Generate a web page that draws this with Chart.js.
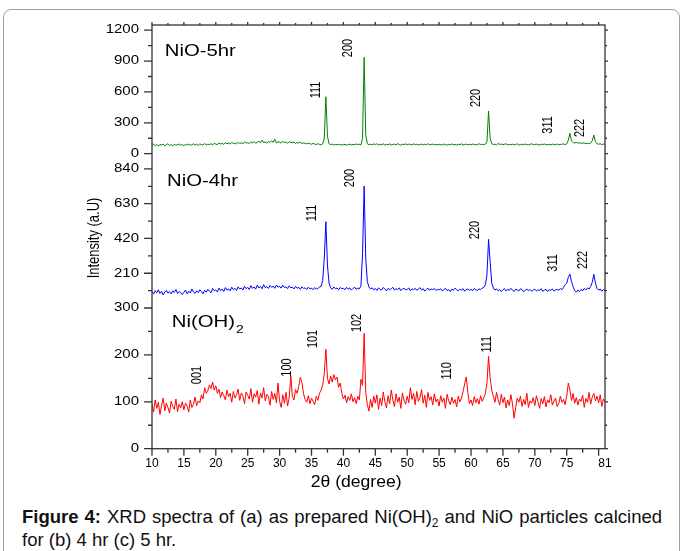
<!DOCTYPE html>
<html>
<head>
<meta charset="utf-8">
<script src="https://cdn.jsdelivr.net/npm/chart.js@4.4.1/dist/chart.umd.min.js"></script>
<style>
  body { margin: 0; background: #fff; width: 683px; height: 551px; overflow: hidden; position: relative; font-family: 'Liberation Sans', Arial, sans-serif; }
  .frame { position: absolute; left: 3px; top: 9px; width: 675px; height: 580px; border: 1px solid #a0a0a0; border-radius: 8px; }
  #wrap { position: absolute; left: 0; top: 0; width: 683px; height: 500px; }
  .caption { position: absolute; left: 22px; top: 505px; width: 640px; font-size: 18.5px; line-height: 23px; color: #111; text-align: justify; }
  .caption sub { font-size: 12px; vertical-align: -4px; line-height: 0; }
</style>
</head>
<body>
<div class="frame"></div>
<div id="wrap"><canvas id="xrd" width="683" height="500"></canvas></div>
<div class="caption"><b>Figure 4:</b> XRD spectra of (a) as prepared Ni(OH)<sub>2</sub> and NiO particles calcined for (b) 4 hr (c) 5 hr.</div>
<script>
const FONT = "'Liberation Sans', Arial, sans-serif";

// 2θ sampling of the scans (degrees)
const angleStart = 10;
const angleStep = 0.25;

// (c) NiO calcined 5 hr, one row per 5 degrees
const nio5hr = [
  82, 95, 78, 88, 74, 90, 84, 92, 79, 86, 97, 80, 89, 76, 91, 83, 87, 94, 81, 88,
  79, 90, 85, 93, 82, 87, 96, 84, 91, 80, 95, 88, 83, 99, 86, 92, 89, 97, 85, 101,
  93, 88, 104, 95, 99, 91, 106, 97, 102, 94, 108, 99, 103, 96, 110, 100, 105, 98, 112, 103,
  107, 99, 115, 104, 118, 102, 110, 121, 106, 132, 108, 114, 103, 119, 109, 125, 111, 140, 105, 116,
  112, 104, 120, 108, 114, 101, 117, 110, 106, 113, 99, 109, 104, 111, 98, 106, 101, 95, 103, 97,
  92, 100, 94, 89, 97, 91, 86, 95, 150, 553, 170, 96, 88, 93, 85, 90, 87, 92, 84, 89,
  86, 91, 83, 88, 93, 85, 90, 87, 94, 89, 92, 86, 150, 936, 180, 97, 88, 92, 86, 95,
  89, 97, 84, 92, 88, 95, 83, 91, 87, 96, 85, 90, 93, 86, 98, 88, 84, 92, 89, 95,
  87, 93, 90, 85, 96, 88, 91, 84, 89, 94, 86, 92, 88, 97, 85, 90, 93, 87, 91, 86,
  92, 88, 85, 94, 89, 83, 91, 87, 95, 86, 90, 84, 92, 88, 96, 85, 89, 93, 87, 91,
  86, 94, 88, 90, 85, 97, 89, 92, 87, 93, 115, 415, 150, 97, 88, 93, 85, 99, 90, 94,
  87, 92, 96, 85, 90, 88, 93, 86, 91, 95, 84, 89, 92, 87, 94, 88, 85, 91, 97, 86,
  90, 93, 87, 84, 92, 89, 95, 86, 88, 91, 85, 93, 89, 87, 94, 86, 90, 92, 95, 88,
  96, 130, 198, 125, 108, 104, 110, 102, 107, 99, 105, 103, 98, 101, 96, 104, 125, 181, 118, 96,
  92, 97, 88, 94, 90
];

// (b) NiO calcined 4 hr
const nio4hr = [
  98, 84, 105, 92, 110, 88, 101, 79, 96, 107, 90, 99, 85, 103, 94, 112, 87, 100, 93, 81,
  95, 108, 86, 102, 91, 115, 97, 88, 104, 93, 110, 99, 86, 107, 96, 113, 101, 92, 118, 104,
  109, 97, 120, 105, 114, 100, 123, 108, 116, 103, 126, 111, 119, 106, 128, 115, 121, 109, 131, 117,
  124, 112, 135, 119, 127, 114, 138, 121, 130, 116, 141, 123, 129, 118, 136, 125, 132, 119, 139, 126,
  131, 120, 137, 124, 128, 117, 134, 122, 126, 115, 130, 119, 125, 113, 128, 118, 122, 111, 126, 116,
  120, 110, 124, 114, 118, 127, 130, 165, 300, 521, 260, 150, 122, 113, 127, 116, 121, 110, 124, 117,
  119, 111, 125, 114, 121, 108, 118, 126, 113, 120, 116, 135, 330, 737, 300, 160, 127, 115, 122, 110,
  118, 106, 121, 112, 109, 124, 114, 103, 119, 110, 116, 125, 108, 117, 111, 122, 105, 115, 120, 109,
  113, 121, 104, 116, 110, 119, 107, 114, 123, 109, 117, 102, 112, 120, 108, 115, 111, 118, 106, 113,
  109, 116, 103, 112, 118, 105, 111, 99, 114, 107, 120, 110, 104, 113, 108, 117, 102, 111, 115, 106,
  113, 104, 118, 109, 107, 115, 112, 120, 124, 140, 200, 415, 280, 150, 121, 108, 116, 103, 112, 99,
  110, 117, 102, 113, 106, 119, 108, 100, 114, 109, 103, 116, 111, 98, 107, 115, 104, 112, 101, 109,
  114, 103, 110, 106, 117, 101, 108, 113, 99, 111, 105, 116, 102, 109, 112, 107, 118, 110, 125, 140,
  150, 185, 205, 160, 128, 105, 96, 108, 99, 112, 104, 118, 109, 121, 115, 130, 155, 203, 150, 118,
  108, 115, 101, 112, 104
];

// (a) as prepared Ni(OH)2
const niOH2 = [
  95, 78, 104, 86, 99, 73, 92, 108, 81, 97, 88, 76, 101, 90, 84, 106, 79, 95, 87, 100,
  83, 97, 91, 78, 104, 88, 95, 110, 92, 102, 98, 115, 106, 130, 118, 124, 136, 128, 142, 125,
  134, 118, 127, 109, 121, 113, 104, 125, 111, 118, 99, 122, 108, 115, 127, 103, 119, 112, 96, 121,
  114, 106, 128, 99, 117, 110, 124, 95, 119, 108, 130, 102, 116, 111, 93, 122, 105, 118, 98, 140,
  101, 88, 115, 97, 120, 91, 108, 155, 112, 104, 126, 118, 133, 152, 141, 117, 105, 99, 113, 96,
  108, 101, 94, 112, 103, 118, 125, 135, 160, 212, 150, 138, 155, 142, 158, 147, 153, 131, 140, 118,
  106, 114, 98, 111, 103, 117, 100, 109, 96, 112, 104, 148, 135, 246, 120, 94, 80, 105, 88, 112,
  97, 115, 84, 108, 92, 121, 100, 87, 113, 96, 125, 104, 90, 117, 99, 110, 86, 119, 103, 95,
  112, 98, 130, 105, 118, 94, 122, 101, 109, 126, 97, 114, 88, 120, 103, 111, 93, 117, 100, 106,
  91, 113, 99, 108, 86, 116, 102, 94, 110, 97, 105, 89, 112, 100, 108, 121, 138, 153, 120, 96,
  104, 92, 111, 98, 107, 95, 113, 101, 108, 118, 140, 197, 150, 125, 112, 99, 120, 105, 93, 116,
  98, 110, 87, 104, 92, 115, 96, 65, 88, 108, 99, 112, 90, 105, 94, 118, 88, 102, 97, 109,
  92, 113, 100, 86, 107, 96, 111, 89, 104, 98, 115, 93, 101, 108, 90, 96, 112, 99, 105, 94,
  112, 140, 125, 103, 118, 97, 109, 93, 106, 101, 114, 88, 107, 99, 120, 95, 110, 118, 102, 112,
  98, 115, 90, 106, 100
];

const angles = nio5hr.map((_, i) => angleStart + i * angleStep);

// labelled y ticks of each panel
const ticks5hr = [0, 300, 600, 900, 1200];
const ticks4hr = [210, 420, 630, 840];
const ticksOH = [0, 100, 200, 300];

// peak indexing: label text, label centre 2θ, label centre intensity
const peaks5hrText = ['111', '200', '220', '311', '222'];
const peaks5hrAngle = [35.66, 40.7, 60.8, 72.1, 77.1];
const peaks5hrLevel = [618, 1026, 541, 279, 250];

const peaks4hrText = ['111', '200', '220', '311', '222'];
const peaks4hrAngle = [35.1, 41.1, 60.6, 72.8, 77.55];
const peaks4hrLevel = [574, 785, 471, 272, 290];

const peaksOHText = ['001', '100', '101', '102', '110', '111'];
const peaksOHAngle = [17.0, 31.2, 35.2, 42.1, 56.3, 62.55];
const peaksOHLevel = [157, 173, 234, 268, 166, 223];

// sample names: text, 2θ of left edge, intensity
const panelNames = ['NiO-5hr', 'NiO-4hr', 'Ni(OH)'];
const panelNameAngle = [12.0, 12.35, 13.1];
const panelNameLevel = [987, 761, 268];

const toPoints = values => values.map((v, i) => ({ x: angles[i], y: v }));

function drawText(ctx, text, x, y, size, sx, rotate, align) {
  ctx.save();
  ctx.translate(x, y);
  if (rotate) ctx.rotate(-Math.PI / 2);
  ctx.scale(sx, 1);
  ctx.font = size + 'px ' + FONT;
  ctx.textAlign = align || 'center';
  ctx.textBaseline = 'middle';
  ctx.fillStyle = '#000';
  ctx.fillText(text, 0, 0);
  const w = ctx.measureText(text).width * sx;
  ctx.restore();
  return w;
}

// frame, tick marks, y labels, annotations
const framePlugin = {
  id: 'xrdFrame',
  afterDatasetsDraw(chart) {
    const { ctx, chartArea: a, scales } = chart;
    const x = scales.x;
    ctx.save();
    ctx.strokeStyle = '#333';
    ctx.lineWidth = 1.3;
    ctx.strokeRect(a.left, a.top, a.right - a.left, a.bottom - a.top);
    ctx.beginPath();
    for (let v = x.min; v <= x.max + 1e-6; v += 2.5) {
      const px = x.getPixelForValue(v);
      const major = v % 5 === 0;
      ctx.moveTo(px, a.bottom);
      ctx.lineTo(px, a.bottom + (major ? 7 : 4));
      ctx.moveTo(px, a.top);
      ctx.lineTo(px, a.top - (major ? 3 : 2));
    }
    ['yTop', 'yMid', 'yBot'].forEach(id => {
      const s = scales[id];
      const step = s.options.ticks.stepSize;
      for (let v = 0; v <= s.max + 1e-6; v += step / 2) {
        const py = s.getPixelForValue(v);
        const major = Math.abs(v % step) < 1e-6;
        ctx.moveTo(a.left, py);
        ctx.lineTo(a.left - (major ? 8 : 4), py);
        ctx.moveTo(a.right, py);
        ctx.lineTo(a.right + (major ? 3 : 2), py);
      }
    });
    ctx.stroke();
    ctx.restore();

    // y tick labels of the three stacked panels
    ['yTop', 'yMid', 'yBot'].forEach(id => {
      const s = scales[id];
      s.ticks.forEach(t => {
        drawText(ctx, String(t.value), a.left - 13, s.getPixelForValue(t.value), 12, 1.25, false, 'right');
      });
    });

    // peak labels
    const groups = [
      [scales.yTop, peaks5hrText, peaks5hrAngle, peaks5hrLevel],
      [scales.yMid, peaks4hrText, peaks4hrAngle, peaks4hrLevel],
      [scales.yBot, peaksOHText, peaksOHAngle, peaksOHLevel]
    ];
    groups.forEach(([s, texts, ang, lev]) => {
      texts.forEach((t, i) => {
        drawText(ctx, t, x.getPixelForValue(ang[i]), s.getPixelForValue(lev[i]), 14, 0.78, true);
      });
    });

    // sample names
    [scales.yTop, scales.yMid, scales.yBot].forEach((s, i) => {
      const px = x.getPixelForValue(panelNameAngle[i]);
      const py = s.getPixelForValue(panelNameLevel[i]);
      const w = drawText(ctx, panelNames[i], px, py, 16, 1.27, false, 'left');
      if (i === 2) drawText(ctx, '2', px + w + 1, py + 7, 11, 1.27, false, 'left');
    });

    // axis titles
    drawText(ctx, 'Intensity (a.U)', a.left - 57, a.top + 213, 16, 0.81, true);
    drawText(ctx, '2\u03b8 (degree)', x.getPixelForValue(42), a.bottom + 34, 16, 1.1, false);
  }
};

const yAxis = (min, max, tickValues, weight) => ({
  type: 'linear',
  position: 'left',
  stack: 'xrd',
  stackWeight: weight,
  min,
  max,
  grid: { display: false, drawTicks: false },
  border: { display: false },
  ticks: { stepSize: tickValues[1] - tickValues[0], display: false },
  afterBuildTicks: s => {
    s.ticks = tickValues.map(v => ({ value: v }));
  },
  afterFit: s => { s.width = 152; }
});

new Chart(document.getElementById('xrd'), {
  type: 'line',
  data: {
    datasets: [
      { label: 'Ni(OH)2', data: toPoints(niOH2), yAxisID: 'yBot', borderColor: '#ff0000' },
      { label: 'NiO-4hr', data: toPoints(nio4hr), yAxisID: 'yMid', borderColor: '#0000ff' },
      { label: 'NiO-5hr', data: toPoints(nio5hr), yAxisID: 'yTop', borderColor: '#008000' }
    ]
  },
  options: {
    responsive: false,
    animation: false,
    layout: { padding: { top: 25, right: 78, left: 0, bottom: 0 } },
    elements: {
      line: { borderWidth: 1, tension: 0, fill: false },
      point: { radius: 0 }
    },
    plugins: {
      legend: { display: false },
      tooltip: { enabled: false }
    },
    scales: {
      x: {
        type: 'linear',
        min: 10,
        max: 81,
        grid: { display: false, drawTicks: false },
        border: { display: false },
        ticks: { stepSize: 5, autoSkip: false, padding: 8, color: '#000', font: { size: 12, family: FONT } },
        afterFit: s => { s.height = 51.3; }
      },
      yBot: yAxis(0, 300, ticksOH, 140.7),
      yMid: yAxis(0, 932, ticks4hr, 154.3),
      yTop: yAxis(0, 1250, ticks5hr, 128.7)
    }
  },
  plugins: [framePlugin]
});
</script>
</body>
</html>
